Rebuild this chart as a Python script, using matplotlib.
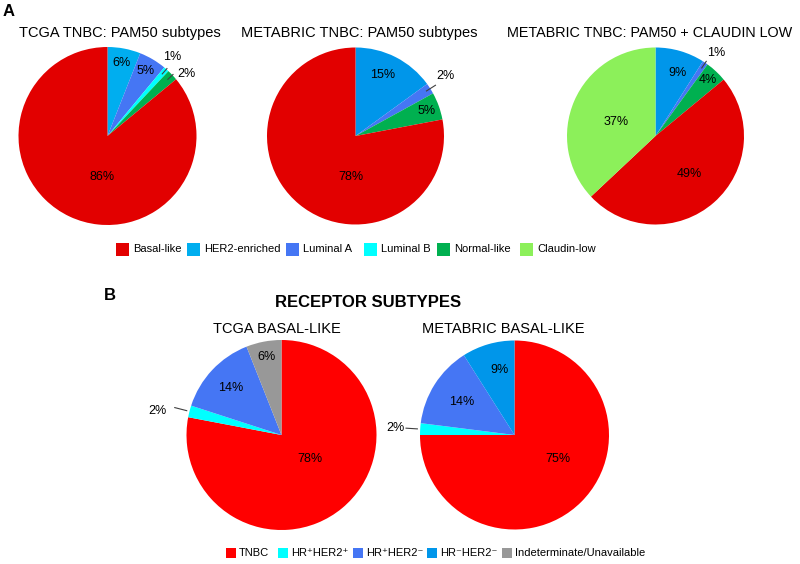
import numpy as np
import matplotlib.pyplot as plt
from matplotlib.patches import Rectangle

plt.rcParams['font.family'] = ['Liberation Sans', 'DejaVu Sans']

W, H = 800, 564

# ---- panel A : PAM50 subtypes (slices drawn clockwise from 12 o'clock)
pam50 = ['HER2-enriched', 'Luminal A', 'Luminal B', 'Normal-like', 'Basal-like', 'Claudin-low']
tcga_tnbc = [6, 5, 1, 2, 86, 0]
metabric_tnbc = [15, 2, 0, 5, 78, 0]
metabric_cl = [9, 1, 0, 4, 49, 37]
pam50_legend = ['Basal-like', 'HER2-enriched', 'Luminal A', 'Luminal B', 'Normal-like', 'Claudin-low']

# ---- panel B : receptor subtypes
receptor = ['TNBC', 'HR\u207aHER2\u207a', 'HR\u207aHER2\u207b', 'HR\u207bHER2\u207b', 'Indeterminate/Unavailable']
tcga_basal = [78, 2, 14, 0, 6]
metabric_basal = [75, 2, 14, 9, 0]

col = {'Basal-like': '#E20000', 'HER2-enriched': '#00AEEF', 'Luminal A': '#4576F4',
       'Luminal B': '#00FFFF', 'Normal-like': '#00B050', 'Claudin-low': '#8CF05A',
       'TNBC': '#FF0000', 'HR\u207aHER2\u207a': '#00FFFF', 'HR\u207aHER2\u207b': '#4576F4',
       'HR\u207bHER2\u207b': '#0096EA', 'Indeterminate/Unavailable': '#989898'}
her2_dark = '#0096EA'

fig = plt.figure(figsize=(8, 5.64), dpi=100)


def draw_pie(cx, cy, r, vals, names, colors, lab_r, lab_shift, outside, lead):
    ax = fig.add_axes([(cx - r) / W, 1 - (cy + r) / H, 2 * r / W, 2 * r / H])
    wedges, _ = ax.pie(vals, colors=colors, startangle=90, counterclock=False,
                       radius=1, wedgeprops=dict(linewidth=0))
    ax.set_xlim(-1, 1)
    ax.set_ylim(-1, 1)
    ax.axis('off')
    for i, w in enumerate(wedges):
        if vals[i] == 0:
            continue
        mid = (w.theta1 + w.theta2) / 2
        a = np.deg2rad(mid + lab_shift[i])
        ax.text(lab_r[i] * np.cos(a), lab_r[i] * np.sin(a), f'{vals[i]}%',
                ha='center', va='center', fontsize=9)
        if i in outside:
            m = np.deg2rad(mid)
            ax.plot([lead[0] * np.cos(m), lead[1] * np.cos(m)],
                    [lead[0] * np.sin(m), lead[1] * np.sin(m)],
                    color='#404040', lw=0.8, clip_on=False)
    return ax


cA1 = [col[n] for n in pam50]
cA2 = [her2_dark if n == 'HER2-enriched' else col[n] for n in pam50]
draw_pie(107.5, 136, 89, tcga_tnbc, pam50, cA1,
         [0.83, 0.85, 1.15, 1.13, 0.465, 0.5], [0, 0, 2, -5, 17.6, 0], [2, 3], (0.93, 1.01))
draw_pie(355.5, 136, 88.5, metabric_tnbc, pam50, cA2,
         [0.75, 1.22, 1.0, 0.85, 0.465, 0.5], [3, 1.6, 0, 0, 32.6, 0], [1], (0.95, 1.07))
draw_pie(655.5, 136, 88.5, metabric_cl, pam50, cA2,
         [0.75, 1.16, 1.0, 0.87, 0.57, 0.47], [-3, -2, 0, 0, 0, 4], [1], (0.93, 1.02))

cB = [col[n] for n in receptor]
draw_pie(281.5, 435, 95, tcga_basal, receptor, cB,
         [0.39, 1.33, 0.73, 0.7, 0.84], [11, 3.4, 0, 0, 0], [1], (1.03, 1.16))
draw_pie(514.5, 435, 94.5, metabric_basal, receptor, cB,
         [0.52, 1.26, 0.66, 0.71, 0.8], [16.4, 0, 0, -3, 0], [1], (1.03, 1.15))

# ---- titles
def ftext(x, y, s, **kw):
    fig.text(x / W, 1 - y / H, s, **kw)

ftext(9, 12, 'A', fontsize=12, fontweight='bold', ha='center', va='center')
ftext(120, 33, 'TCGA TNBC: PAM50 subtypes', fontsize=10.5, ha='center', va='center')
ftext(359, 33, 'METABRIC TNBC: PAM50 subtypes', fontsize=10.5, ha='center', va='center')
ftext(650, 33, 'METABRIC TNBC: PAM50 + CLAUDIN LOW', fontsize=10.4, ha='center', va='center')

ftext(110, 296, 'B', fontsize=12, fontweight='bold', ha='center', va='center')
ftext(368.5, 302, 'RECEPTOR SUBTYPES', fontsize=12, fontweight='bold', ha='center', va='center')
ftext(276.5, 329, 'TCGA BASAL-LIKE', fontsize=10.5, ha='center', va='center')
ftext(503, 329, 'METABRIC BASAL-LIKE', fontsize=10.5, ha='center', va='center')

# ---- legends
sqA = [116, 187, 286, 364, 437, 520]
for x, name in zip(sqA, pam50_legend):
    fig.patches.append(Rectangle((x / W, 1 - 256 / H), 13 / W, 13 / H,
                                 transform=fig.transFigure, color=col[name], lw=0))
    ftext(x + 17, 249.5, name, fontsize=8, ha='left', va='center')

sqB = [226, 278, 353, 427, 502]
for x, name in zip(sqB, receptor):
    fig.patches.append(Rectangle((x / W, 1 - 558 / H), 10 / W, 10 / H,
                                 transform=fig.transFigure, color=col[name], lw=0))
    ftext(x + 13, 553, name, fontsize=8, ha='left', va='center')

fig.savefig('out.png', dpi=100)
